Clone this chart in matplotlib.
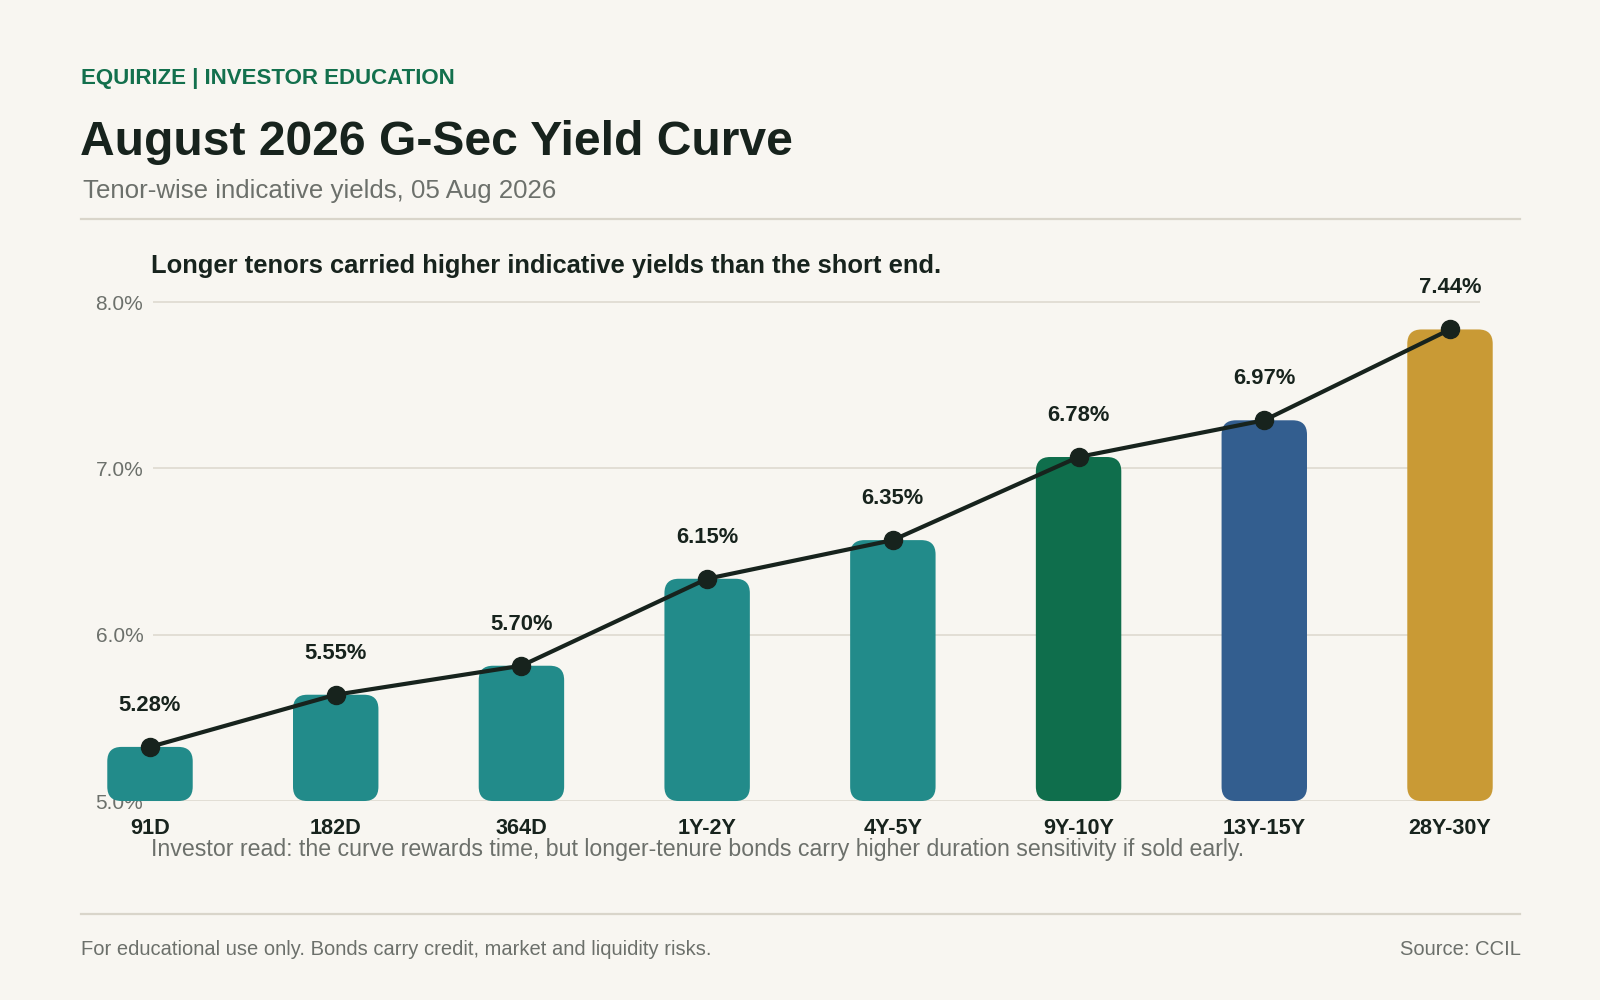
import matplotlib
matplotlib.use("Agg")
import matplotlib.pyplot as plt
from matplotlib.patches import FancyBboxPatch
from matplotlib.lines import Line2D

# data
tenors = ["91D", "182D", "364D", "1Y-2Y", "4Y-5Y", "9Y-10Y", "13Y-15Y", "28Y-30Y"]
yields = [5.28, 5.55, 5.70, 6.15, 6.35, 6.78, 6.97, 7.44]
grid_ticks = [5.0, 6.0, 7.0, 8.0]
grid_labels = ["5.0%", "6.0%", "7.0%", "8.0%"]

BG = "#f8f6f1"
INK = "#17231d"
GREY = "#6c706b"
RULE = "#d9d5ca"
bar_colors = ["#228b8a"] * 5 + ["#0f6e4c", "#335e8f", "#c99a35"]

# layout is worked out in pixels of a 1568x980 canvas
W, H = 1568.0, 980.0
def fx(px):
    return px / W
def fy(py):
    return 1 - py / H

plt.rcParams['font.family'] = ['Liberation Sans', 'DejaVu Sans']
fig = plt.figure(figsize=(16, 10), dpi=100, facecolor=BG)

base_px, top_px = 785, 280
ax_h = (base_px - top_px) / H

# gridline/tick axis (its scale runs a little tighter than the bars)
axg = fig.add_axes([fx(150), fy(base_px), fx(1300), ax_h])
axg.set_facecolor(BG)
axg.set_xlim(0, 1)
axg.set_ylim(5.0, 5.0 + (base_px - top_px) / 163.0)
axg.set_yticks(grid_ticks)
axg.set_yticklabels(grid_labels)
axg.set_xticks([])
axg.tick_params(axis='y', length=0, pad=7, labelsize=15, labelcolor=GREY)
axg.grid(axis='y', color="#e0dcd2", lw=1.3)
for s in axg.spines.values():
    s.set_visible(False)

# data axis
ax = fig.add_axes([fx(56), fy(base_px), fx(1456), ax_h])
ax.patch.set_alpha(0)
ax.set_xlim(-0.5, len(tenors) - 0.5)
ax.set_ylim(5.0, 5.0 + (base_px - top_px) / 189.4)
for s in ax.spines.values():
    s.set_visible(False)
ax.set_yticks([])
x = list(range(len(tenors)))
ax.set_xticks(x)
ax.set_xticklabels(tenors, fontsize=15.6, fontweight='bold', color=INK)
ax.tick_params(axis='x', length=0, pad=12)

bars = ax.bar(x, [v - 5.0 for v in yields], bottom=5.0, width=0.46)
rx = 14 / 182.0
asp = (14 / 189.4) / rx
for rect, c in zip(bars, bar_colors):
    bx, by = rect.get_x(), rect.get_y()
    bw, bh = rect.get_width(), rect.get_height()
    rect.remove()
    ax.add_patch(FancyBboxPatch((bx, by), bw, bh,
                                boxstyle="round,pad=0,rounding_size=%f" % rx,
                                mutation_aspect=asp, fc=c, ec='none',
                                clip_on=False, zorder=2))

ax.plot(x, yields, color=INK, lw=3, marker='o', markersize=13,
        zorder=4, clip_on=False)
for i, v in zip(x, yields):
    ax.annotate("%.2f%%" % v, (i, v), xytext=(0, 30), textcoords='offset points',
                ha='center', va='center', fontsize=15.8, fontweight='bold',
                color=INK, zorder=5, annotation_clip=False)

# header block
fig.text(fx(79), fy(82), "EQUIRIZE | INVESTOR EDUCATION", fontsize=16,
         fontweight='bold', color="#13704d", va='baseline')
fig.text(fx(78), fy(152), "August 2026 G-Sec Yield Curve", fontsize=34.6,
         fontweight='bold', color=INK, va='baseline')
fig.text(fx(81), fy(194), "Tenor-wise indicative yields, 05 Aug 2026", fontsize=18.6,
         color=GREY, va='baseline')
fig.add_artist(Line2D([fx(79), fx(1490)], [fy(215)] * 2, transform=fig.transFigure,
                      color=RULE, lw=1.6))

fig.text(fx(148), fy(268), "Longer tenors carried higher indicative yields than the short end.",
         fontsize=18.4, fontweight='bold', color=INK, va='baseline')
fig.text(fx(148), fy(839),
         "Investor read: the curve rewards time, but longer-tenure bonds carry higher duration sensitivity if sold early.",
         fontsize=16.7, color=GREY, va='baseline')

fig.add_artist(Line2D([fx(79), fx(1490)], [fy(896)] * 2, transform=fig.transFigure,
                      color=RULE, lw=1.6))
fig.text(fx(79), fy(936), "For educational use only. Bonds carry credit, market and liquidity risks.",
         fontsize=14.5, color=GREY, va='baseline')
fig.text(fx(1490), fy(936), "Source: CCIL", fontsize=14.5, color=GREY,
         va='baseline', ha='right')

fig.savefig("out.png", dpi=100, facecolor=BG)
